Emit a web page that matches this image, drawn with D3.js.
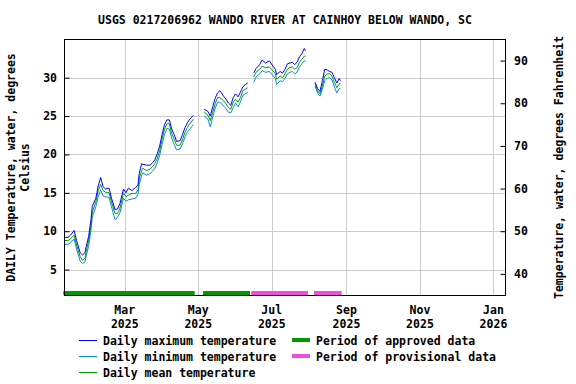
<!DOCTYPE html>
<html>
<head>
<meta charset="utf-8">
<title>USGS 0217206962 water temperature</title>
<script src="https://d3js.org/d3.v7.min.js"></script>
<style>
  html, body { margin: 0; padding: 0; background: #fff; }
  svg text { font-family: "DejaVu Sans Mono", monospace; font-weight: bold; font-size: 11.5px; fill: #000; }
</style>
</head>
<body>
<div id="chart"></div>
<script>

var title = "USGS 0217206962 WANDO RIVER AT CAINHOY BELOW WANDO, SC";

// daily values, null = no data (gap)
var dates = [
  "2025-01-10","2025-01-13","2025-01-15","2025-01-18","2025-01-20","2025-01-23","2025-01-25","2025-01-27",
  "2025-01-28","2025-01-30","2025-02-01","2025-02-02","2025-02-05","2025-02-07","2025-02-09","2025-02-11",
  "2025-02-13","2025-02-16","2025-02-18","2025-02-21","2025-02-23","2025-02-25","2025-02-27","2025-02-28",
  "2025-03-02","2025-03-04","2025-03-07","2025-03-10","2025-03-12","2025-03-13","2025-03-15","2025-03-16",
  "2025-03-19","2025-03-22","2025-03-24","2025-03-26","2025-03-28","2025-03-30","2025-04-01","2025-04-03",
  "2025-04-05","2025-04-07","2025-04-09","2025-04-11","2025-04-13","2025-04-16","2025-04-18","2025-04-20",
  "2025-04-22","2025-04-24","2025-04-27",
  "2025-05-01",
  "2025-05-06","2025-05-09","2025-05-11","2025-05-13","2025-05-15","2025-05-17","2025-05-19","2025-05-22",
  "2025-05-24","2025-05-26","2025-05-28","2025-05-30","2025-06-01","2025-06-03","2025-06-05","2025-06-07",
  "2025-06-09","2025-06-11",
  "2025-06-14",
  "2025-06-16","2025-06-18","2025-06-21","2025-06-23","2025-06-26","2025-06-29","2025-07-02","2025-07-04",
  "2025-07-05","2025-07-08","2025-07-10","2025-07-12","2025-07-14","2025-07-16","2025-07-18","2025-07-20",
  "2025-07-22","2025-07-24","2025-07-26","2025-07-28","2025-07-29",
  "2025-08-02",
  "2025-08-06","2025-08-08","2025-08-10","2025-08-12","2025-08-14","2025-08-16","2025-08-18","2025-08-20",
  "2025-08-22","2025-08-24","2025-08-26","2025-08-27"
];

var meanTemp = [
  8.8, 8.8, 9.0, 9.5, 8.2, 6.7, 6.2, 6.5,
  7.4, 8.7, 10.8, 12.5, 13.8, 15.3, 16.1, 15.3,
  15.1, 15.0, 13.8, 12.3, 12.3, 13.0, 14.3, 15.0,
  14.5, 14.7, 14.9, 14.9, 15.4, 16.9, 17.9, 18.2,
  17.9, 18.1, 18.4, 18.8, 19.5, 20.5, 22.0, 23.3,
  24.0, 24.0, 22.7, 22.0, 21.2, 21.2, 22.0, 22.9,
  23.5, 24.0, 24.6,
  null,
  25.5, 25.1, 24.4, 25.5, 26.6, 27.4, 27.4, 27.0,
  26.6, 26.1, 25.9, 26.8, 27.2, 26.8, 27.4, 28.3,
  28.5, 28.7,
  null,
  30.1, 30.7, 31.1, 31.5, 31.3, 31.4, 30.9, 30.5,
  29.8, 30.2, 30.0, 30.5, 31.1, 31.3, 31.4, 31.1,
  31.3, 32.0, 32.4, 32.8, 32.8,
  null,
  29.2, 28.3, 27.9, 28.9, 30.2, 30.5, 30.5, 30.2,
  29.4, 28.7, 29.2, 29.2
];

var maxTemp = [
  9.2, 9.2, 9.5, 10.1, 8.8, 7.2, 6.9, 7.2,
  8.0, 9.3, 11.5, 13.2, 14.3, 15.9, 17.0, 15.8,
  15.5, 15.6, 14.3, 12.8, 12.9, 13.6, 14.9, 15.5,
  15.0, 15.6, 15.3, 15.7, 16.0, 17.5, 18.8, 18.7,
  18.6, 18.6, 18.9, 19.3, 20.1, 21.1, 22.6, 23.9,
  24.5, 24.5, 23.3, 22.6, 21.7, 21.8, 22.6, 23.5,
  24.1, 24.6, 25.1,
  null,
  25.9, 25.6, 25.0, 26.2, 27.3, 28.0, 28.3, 27.6,
  27.2, 26.7, 26.4, 27.4, 27.9, 27.5, 28.1, 28.8,
  29.1, 29.3,
  null,
  30.6, 31.2, 31.7, 32.3, 31.9, 32.2, 31.5, 31.1,
  30.4, 30.8, 30.6, 31.1, 31.8, 31.9, 32.0, 31.7,
  32.0, 32.7, 33.1, 33.8, 33.5,
  null,
  29.4, 28.6, 28.2, 29.6, 31.1, 31.0, 30.8, 30.7,
  30.0, 29.3, 29.9, 29.6
];

var minTemp = [
  8.3, 8.3, 8.5, 9.0, 7.7, 6.1, 5.8, 6.0,
  6.8, 8.0, 10.2, 11.8, 13.2, 14.5, 15.4, 14.6,
  14.5, 14.4, 13.2, 11.5, 11.8, 12.4, 13.7, 14.3,
  13.9, 14.1, 14.2, 14.3, 14.8, 16.1, 17.3, 17.6,
  17.3, 17.5, 17.8, 18.2, 18.9, 19.9, 21.3, 22.6,
  23.4, 23.3, 22.1, 21.3, 20.6, 20.7, 21.4, 22.3,
  22.9, 23.3, 23.9,
  null,
  25.0, 24.6, 23.6, 24.9, 26.0, 26.8, 26.8, 26.3,
  26.0, 25.5, 25.4, 26.1, 26.7, 26.2, 26.8, 27.7,
  27.9, 28.1,
  null,
  29.4, 30.1, 30.5, 30.9, 30.7, 30.8, 30.3, 29.9,
  29.1, 29.6, 29.5, 29.9, 30.5, 30.7, 30.8, 30.5,
  30.7, 31.4, 31.8, 32.2, 32.1,
  null,
  28.9, 28.0, 27.6, 28.5, 29.6, 29.9, 30.0, 29.7,
  28.8, 28.0, 28.6, 28.6
];

var approvedStart = ["2025-01-09", "2025-05-05"];
var approvedEnd   = ["2025-04-28", "2025-06-13"];
var provisionalStart = ["2025-06-14", "2025-08-05"];
var provisionalEnd   = ["2025-07-31", "2025-08-28"];

var xTickDates = ["2025-03-01","2025-05-01","2025-07-01","2025-09-01","2025-11-01","2026-01-01"];
var celsiusTicks = [5, 10, 15, 20, 25, 30];
var fahrenheitTicks = [40, 50, 60, 70, 80, 90];

var legendLines = [
  ["Daily maximum temperature", "#0000ff"],
  ["Daily minimum temperature", "#0a8bd6"],
  ["Daily mean temperature", "#00a000"]
];
var legendBars = [
  ["Period of approved data", "#009900"],
  ["Period of provisional data", "#ee4ddd"]
];

var width = 576, height = 384;
var plotL = 64.5, plotR = 505.5, plotT = 39.5, plotB = 295.5;

var parse = d3.utcParse("%Y-%m-%d");

var x = d3.scaleUtc()
  .domain([parse("2025-01-10"), parse("2026-01-11")])
  .range([plotL, plotR]);

var y = d3.scaleLinear()
  .domain([1.63, 34.97])
  .range([plotB, plotT]);

var yF = d3.scaleLinear()
  .domain([1.63 * 1.8 + 32, 34.97 * 1.8 + 32])
  .range([plotB, plotT]);

var svg = d3.select("#chart").append("svg")
  .attr("width", width)
  .attr("height", height);

// grid
var grid = svg.append("g").attr("shape-rendering", "crispEdges");
grid.selectAll("line.vg").data(xTickDates).enter()
  .append("line")
  .attr("x1", function(d){ return Math.round(x(parse(d))) + 0.5 })
  .attr("x2", function(d){ return Math.round(x(parse(d))) + 0.5 })
  .attr("y1", plotT).attr("y2", plotB)
  .style("stroke", "#cccccc").style("stroke-width", 1.5);
grid.selectAll("line.hg").data(celsiusTicks).enter()
  .append("line")
  .attr("x1", plotL).attr("x2", plotR)
  .attr("y1", function(d){ return Math.round(y(d)) + 0.5 })
  .attr("y2", function(d){ return Math.round(y(d)) + 0.5 })
  .style("stroke", "#cccccc").style("stroke-width", 1.5);

// data lines
var rows = dates.map(function(d, i){
  return { date: parse(d), max: maxTemp[i], min: minTemp[i], mean: meanTemp[i] };
});

function lineFor(key){
  return d3.line()
    .defined(function(d){ return d[key] != null })
    .x(function(d){ return x(d.date) })
    .y(function(d){ return y(d[key]) });
}

[["min", legendLines[1][1]], ["mean", legendLines[2][1]], ["max", legendLines[0][1]]].forEach(function(s){
  svg.append("path")
    .datum(rows)
    .attr("d", lineFor(s[0]))
    .style("fill", "none")
    .style("stroke", s[1])
    .style("stroke-width", 1);
});

// approval periods
function periodBars(starts, ends, color){
  svg.selectAll(null).data(starts).enter()
    .append("rect")
    .attr("x", function(d){ return x(parse(d)) })
    .attr("width", function(d, i){ return x(parse(ends[i])) - x(parse(d)) })
    .attr("y", plotB - 4.5)
    .attr("height", 4)
    .style("fill", color);
}
periodBars(approvedStart, approvedEnd, legendBars[0][1]);
periodBars(provisionalStart, provisionalEnd, legendBars[1][1]);

// frame
svg.append("rect")
  .attr("x", plotL).attr("y", plotT)
  .attr("width", plotR - plotL).attr("height", plotB - plotT)
  .attr("shape-rendering", "crispEdges")
  .style("fill", "none").style("stroke", "#000").style("stroke-width", 1);

// left axis (inward ticks)
var yAxis = d3.axisRight(y).tickValues(celsiusTicks).tickSize(5).tickFormat("");
svg.append("g").attr("transform", "translate(" + plotL + ",0)").call(yAxis)
  .call(function(g){ g.select(".domain").remove() });
svg.selectAll("text.yl").data(celsiusTicks).enter()
  .append("text")
  .attr("x", 57).attr("y", function(d){ return y(d) + 4 })
  .attr("text-anchor", "end")
  .text(function(d){ return d });

// right axis
var yFAxis = d3.axisLeft(yF).tickValues(fahrenheitTicks).tickSize(5).tickFormat("");
svg.append("g").attr("transform", "translate(" + plotR + ",0)").call(yFAxis)
  .call(function(g){ g.select(".domain").remove() });
svg.selectAll("text.yr").data(fahrenheitTicks).enter()
  .append("text")
  .attr("x", 514).attr("y", function(d){ return yF(d) + 4 })
  .text(function(d){ return d });

// bottom axis labels
var monthFmt = d3.utcFormat("%b"), yearFmt = d3.utcFormat("%Y");
var xl = svg.selectAll("g.xl").data(xTickDates).enter()
  .append("g")
  .attr("transform", function(d){ return "translate(" + x(parse(d)) + ",0)" });
xl.append("text").attr("y", 314).attr("text-anchor", "middle")
  .text(function(d){ return monthFmt(parse(d)) });
xl.append("text").attr("y", 327.5).attr("text-anchor", "middle")
  .text(function(d){ return yearFmt(parse(d)) });

// title
svg.append("text")
  .attr("x", (plotL + plotR) / 2).attr("y", 24)
  .attr("text-anchor", "middle")
  .text(title);

// axis titles
var midY = (plotT + plotB) / 2;
svg.append("text")
  .attr("transform", "translate(15," + midY + ") rotate(-90)")
  .attr("text-anchor", "middle")
  .text("DAILY Temperature, water, degrees");
svg.append("text")
  .attr("transform", "translate(28.5," + midY + ") rotate(-90)")
  .attr("text-anchor", "middle")
  .text("Celsius");
svg.append("text")
  .attr("transform", "translate(563," + midY + ") rotate(-90)")
  .attr("text-anchor", "middle")
  .text("Temperature, water, degrees Fahrenheit");

// legend
var lg = svg.selectAll("g.lg").data(legendLines).enter()
  .append("g")
  .attr("transform", function(d, i){ return "translate(0," + (340.5 + i * 16) + ")" });
lg.append("line")
  .attr("x1", 79).attr("x2", 97).attr("y1", 0).attr("y2", 0)
  .style("stroke", function(d){ return d[1] }).style("stroke-width", 1);
lg.append("text").attr("x", 103).attr("y", 4.5).text(function(d){ return d[0] });

var lb = svg.selectAll("g.lb").data(legendBars).enter()
  .append("g")
  .attr("transform", function(d, i){ return "translate(0," + (340.5 + i * 16) + ")" });
lb.append("rect")
  .attr("x", 292).attr("y", -2.5).attr("width", 18).attr("height", 4)
  .style("fill", function(d){ return d[1] });
lb.append("text").attr("x", 316).attr("y", 4.5).text(function(d){ return d[0] });

</script>
</body>
</html>
